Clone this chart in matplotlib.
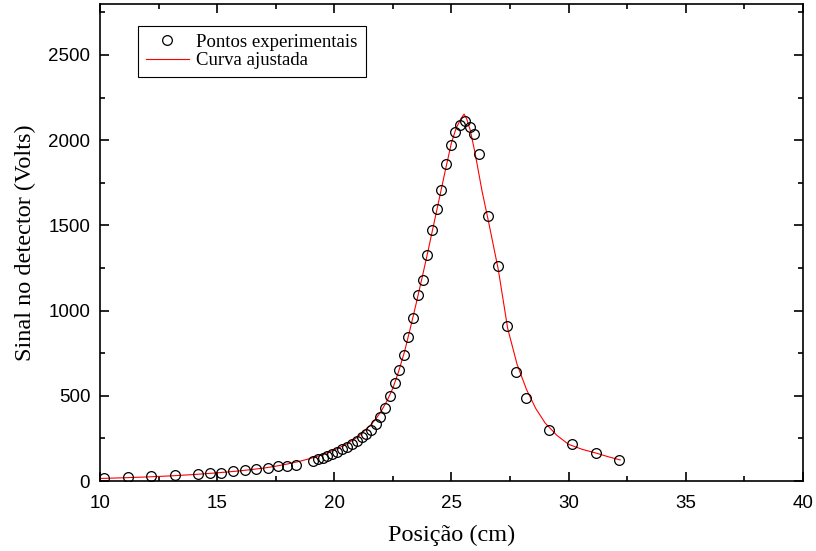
import numpy as np
import matplotlib
matplotlib.use('Agg')
import matplotlib.pyplot as plt
from matplotlib.ticker import MultipleLocator, AutoMinorLocator

# Measured points
pos_exp = [10.17, 11.18, 12.18, 13.19, 14.18, 14.68, 15.18, 15.68, 16.18, 16.67,
           17.17, 17.58, 17.98, 18.38, 19.10, 19.32, 19.50, 19.70, 19.91, 20.13,
           20.34, 20.55, 20.75, 20.95, 21.17, 21.37, 21.57, 21.78, 21.97, 22.18,
           22.38, 22.58, 22.77, 22.97, 23.16, 23.36, 23.57, 23.77, 23.97, 24.17,
           24.37, 24.57, 24.77, 24.97, 25.16, 25.36, 25.58, 25.79, 25.97, 26.18,
           26.57, 26.97, 27.36, 27.77, 28.17, 29.17, 30.16, 31.18, 32.16]
sinal_exp = [20, 24, 27, 35, 43, 45, 49, 59, 65, 71,
             78, 86, 90, 96, 118, 127, 137, 149, 161, 172,
             186, 202, 218, 235, 257, 276, 302, 333, 374, 431,
             496, 575, 653, 741, 845, 955, 1090, 1182, 1327, 1474,
             1596, 1710, 1859, 1971, 2047, 2090, 2112, 2076, 2039, 1918,
             1555, 1261, 908, 637, 486, 298, 218, 163, 124]

# Fitted curve
pos_fit = [10.0, 11.0, 12.0, 13.0, 14.0, 15.0, 16.0, 17.0, 17.5, 18.0,
           18.5, 19.0, 19.5, 20.0, 20.5, 21.0, 21.5, 21.75, 22.0, 22.25,
           22.5, 22.75, 23.0, 23.25, 23.5, 23.75, 24.0, 24.25, 24.5, 24.75,
           25.0, 25.2, 25.4, 25.54, 25.65, 25.8, 26.0, 26.3, 26.6, 27.0,
           27.4, 27.8, 28.2, 28.6, 29.0, 29.5, 30.0, 30.6, 31.2, 31.7, 32.2]
sinal_fit = [15, 19, 24, 30, 38, 48, 60, 76, 87, 100,
             115, 133, 155, 182, 215, 258, 322, 360, 410, 470,
             545, 645, 760, 900, 1045, 1195, 1350, 1510, 1670, 1830,
             1985, 2070, 2125, 2153, 2125, 2060, 1930, 1705, 1510, 1240,
             895, 685, 538, 425, 340, 268, 215, 185, 163, 142, 124]

plt.rcParams.update({'font.family': 'Liberation Sans', 'font.size': 13.5,
                     'axes.linewidth': 1.2})

fig = plt.figure(figsize=(8.16, 5.51), dpi=100)
ax = fig.add_axes([0.1225, 0.127, 0.8615, 0.866])

ax.plot(pos_exp, sinal_exp, 'o', mfc='none', mec='black', ms=7, mew=0.9,
        label='Pontos experimentais', zorder=3)
ax.plot(pos_fit, sinal_fit, '-', color='#ff0000', lw=0.8,
        label='Curva ajustada', zorder=2)

ax.set_xlim(10, 40)
ax.set_ylim(0, 2800)
ax.xaxis.set_major_locator(MultipleLocator(5))
ax.xaxis.set_minor_locator(AutoMinorLocator(2))
ax.yaxis.set_major_locator(MultipleLocator(500))
ax.yaxis.set_minor_locator(AutoMinorLocator(2))
ax.tick_params(which='both', direction='in', top=True, right=True, width=1.2)
ax.tick_params(which='major', length=6.5)
ax.tick_params(which='minor', length=3.3)
ax.tick_params(axis='x', which='major', pad=10)
ax.tick_params(axis='y', which='major', pad=7)

ax.set_xlabel('Posição (cm)', family='Liberation Serif', fontsize=17.5, labelpad=9)
ax.set_ylabel('Sinal no detector (Volts)', family='Liberation Serif', fontsize=17.5,
              labelpad=8.5)

leg = ax.legend(loc='upper left', bbox_to_anchor=(0.054, 0.954), borderaxespad=0,
                numpoints=1, fancybox=False, framealpha=1, edgecolor='black',
                prop={'family': 'Liberation Serif', 'size': 13.5},
                handlelength=2.3, handletextpad=0.4, borderpad=0.42,
                labelspacing=0.08)
leg.get_frame().set_linewidth(0.8)

fig.savefig('out.png', dpi=100)
